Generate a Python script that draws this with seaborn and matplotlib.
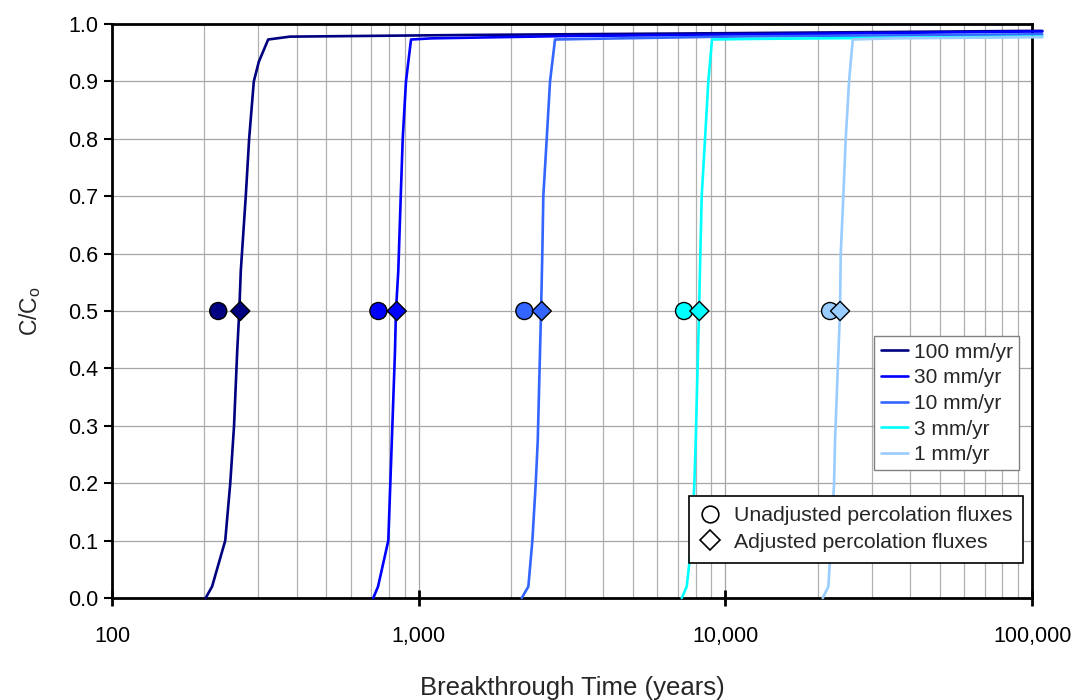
import numpy as np
import pandas as pd
import matplotlib
matplotlib.use("Agg")
import matplotlib.pyplot as plt
import matplotlib.ticker as mticker
from matplotlib.lines import Line2D
import seaborn as sns

# ---------------- data ----------------
series_labels = ["100 mm/yr", "30 mm/yr", "10 mm/yr", "3 mm/yr", "1 mm/yr"]
series_colors = ["#000080", "#0000FF", "#3366FF", "#00FFFF", "#99CCFF"]

t_100 = [202, 212, 234, 243, 250, 256, 260, 263, 273, 280, 290, 301, 323, 380, 1500, 10000, 100000, 108000]
c_100 = [0.0, 0.02, 0.1, 0.2, 0.3, 0.43, 0.5, 0.57, 0.7, 0.8, 0.9, 0.934, 0.973, 0.978, 0.981, 0.984, 0.988, 0.988]

t_30 = [711, 737, 796, 837, 843, 858, 874, 887, 909, 944, 1100, 3000, 20000, 100000, 108000]
c_30 = [0.0, 0.02, 0.1, 0.43, 0.5, 0.57, 0.7, 0.8, 0.9, 0.973, 0.975, 0.979, 0.983, 0.987, 0.987]

t_10 = [2168, 2278, 2348, 2408, 2445, 2506, 2530, 2549, 2615, 2681, 2783, 3500, 10000, 100000, 108000]
c_10 = [0.0, 0.02, 0.1, 0.2, 0.275, 0.5, 0.6, 0.7, 0.8, 0.9, 0.973, 0.974, 0.978, 0.982, 0.982]

t_3 = [7206, 7482, 7769, 7922, 8005, 8206, 8286, 8372, 8583, 8798, 9046, 12000, 100000, 108000]
c_3 = [0.0, 0.02, 0.1, 0.2, 0.275, 0.5, 0.6, 0.7, 0.8, 0.9, 0.973, 0.974, 0.978, 0.978]

t_1 = [20775, 21668, 22111, 22614, 22782, 23650, 23776, 24244, 24684, 25306, 26020, 35000, 100000, 108000]
c_1 = [0.0, 0.02, 0.1, 0.2, 0.275, 0.5, 0.6, 0.7, 0.8, 0.9, 0.973, 0.975, 0.977, 0.977]

unadjusted_t = [222, 739, 2211, 7331, 21944]
adjusted_t = [262, 848, 2519, 8225, 23660]
marker_c = [0.5, 0.5, 0.5, 0.5, 0.5]

x_ticks = [100, 1000, 10000, 100000]
x_tick_labels = ["100", "1,000", "10,000", "100,000"]
y_ticks = [0.0, 0.1, 0.2, 0.3, 0.4, 0.5, 0.6, 0.7, 0.8, 0.9, 1.0]

curves_t = [t_100, t_30, t_10, t_3, t_1]
curves_c = [c_100, c_30, c_10, c_3, c_1]

# ---------------- figure ----------------
sns.set_style("white")
plt.rcParams["font.family"] = ["Liberation Sans", "DejaVu Sans"]

fig = plt.figure(figsize=(10.79, 7.00), dpi=100)
ax = fig.add_axes([0.1038, 0.1457, 0.8527, 0.82])

line_handles = []
for lbl, col, tt, cc in zip(series_labels, series_colors, curves_t, curves_c):
    df = pd.DataFrame({"t": tt, "c": cc})
    sns.lineplot(data=df, x="t", y="c", ax=ax, color=col, linewidth=1.9,
                 estimator=None, sort=False, clip_on=False, zorder=3, legend=False)
    line_handles.append(Line2D([0], [0], color=col, linewidth=1.9, label=lbl))

mdf_u = pd.DataFrame({"t": unadjusted_t, "c": marker_c, "s": series_labels})
mdf_a = pd.DataFrame({"t": adjusted_t, "c": marker_c, "s": series_labels})
pal = dict(zip(series_labels, series_colors))
sns.scatterplot(data=mdf_u, x="t", y="c", hue="s", palette=pal, marker="o", s=150,
                edgecolor="black", linewidth=1.0, ax=ax, legend=False, zorder=4)
sns.scatterplot(data=mdf_a, x="t", y="c", hue="s", palette=pal, marker="D", s=95,
                edgecolor="black", linewidth=1.0, ax=ax, legend=False, zorder=5)

ax.set_xscale("log")
ax.set_xlim(100, 100000)
ax.set_ylim(0, 1.0)
ax.set_xticks(x_ticks)
ax.set_xticklabels(x_tick_labels)
ax.xaxis.set_minor_locator(mticker.LogLocator(base=10, subs=np.arange(2, 10)))
ax.xaxis.set_minor_formatter(mticker.NullFormatter())
ax.set_yticks(y_ticks)
ax.yaxis.set_major_formatter(mticker.FormatStrFormatter("%.1f"))

ax.grid(which="major", axis="both", color="#a6a6a6", linewidth=0.9)
ax.grid(which="minor", axis="x", color="#b0b0b0", linewidth=0.9)
ax.set_axisbelow(True)

for sp in ax.spines.values():
    sp.set_visible(True)
    sp.set_color("black")
    sp.set_linewidth(2.0)

ax.tick_params(axis="x", which="major", direction="inout", length=12, width=2,
               labelsize=15.5, pad=14, colors="black")
ax.tick_params(axis="x", which="minor", direction="in", length=5, width=1.5, colors="black")
ax.tick_params(axis="y", which="major", direction="out", length=6, width=1.5,
               labelsize=15.5, pad=4, colors="black", left=True)
ax.tick_params(axis="x", bottom=True)

ax.set_xlabel("Breakthrough Time (years)", fontsize=18.5, labelpad=21)
ax.set_ylabel("C/C$_\\mathregular{o}$", fontsize=16.5, labelpad=18)

leg1 = ax.legend(handles=line_handles, loc="upper right", bbox_to_anchor=(0.986, 0.456),
                 borderaxespad=0, fontsize=15, frameon=True, fancybox=False,
                 edgecolor="#808080", framealpha=1, handlelength=1.3, handletextpad=0.3,
                 labelspacing=0.32, borderpad=0.3)
leg1.get_frame().set_linewidth(1.0)
ax.add_artist(leg1)

marker_handles = [
    Line2D([0], [0], linestyle="none", marker="o", markersize=12, markerfacecolor="white",
           markeredgecolor="black", markeredgewidth=1.2, label="Unadjusted percolation fluxes"),
    Line2D([0], [0], linestyle="none", marker="D", markersize=10, markerfacecolor="white",
           markeredgecolor="black", markeredgewidth=1.2, label="Adjusted percolation fluxes"),
]
leg2 = ax.legend(handles=marker_handles, loc="upper right", bbox_to_anchor=(0.990, 0.178),
                 borderaxespad=0, fontsize=15.3, frameon=True, fancybox=False,
                 edgecolor="black", framealpha=1, handlelength=1.0, handletextpad=0.6,
                 labelspacing=0.35, borderpad=0.5)
leg2.get_frame().set_linewidth(1.2)

fig.savefig("out.png", dpi=100)
